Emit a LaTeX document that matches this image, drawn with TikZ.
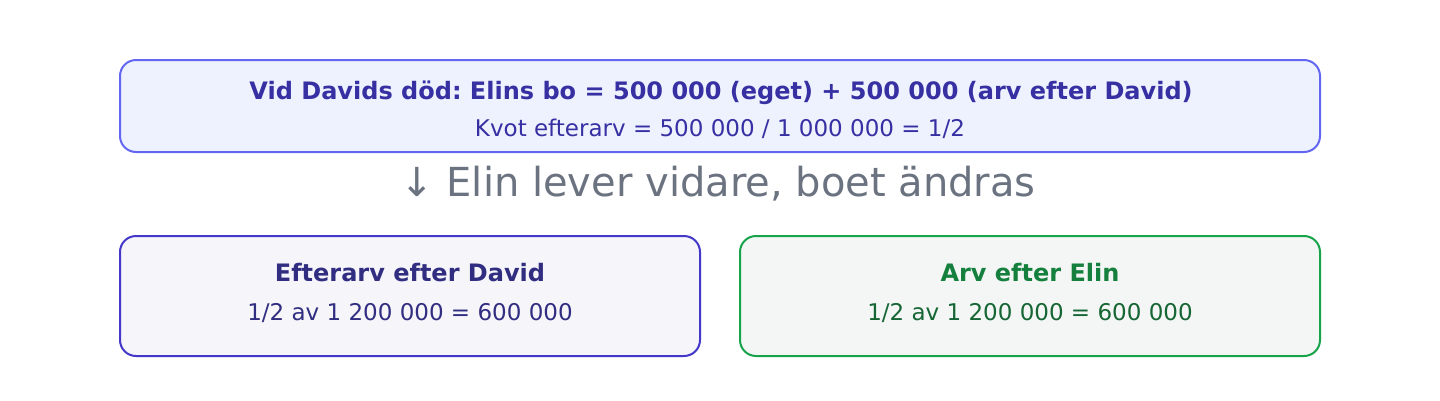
\documentclass[tikz,border=0pt]{standalone}
\usepackage{fontspec}
\setmainfont{DejaVu Sans}
\usepackage{tikz}
\usetikzlibrary{positioning}
\frenchspacing
\definecolor{indigoline}{HTML}{6366F1}
\definecolor{indigofill}{HTML}{EEF2FF}
\definecolor{indigotext}{HTML}{3730A3}
\definecolor{davidline}{HTML}{4338CA}
\definecolor{davidfill}{HTML}{F5F5FA}
\definecolor{davidtext}{HTML}{312E81}
\definecolor{elinline}{HTML}{16A34A}
\definecolor{elinfill}{HTML}{F3F6F4}
\definecolor{elintitle}{HTML}{15803D}
\definecolor{elintext}{HTML}{166534}
\definecolor{steptext}{HTML}{6B7280}
\tikzset{card/.style={draw, line width=2pt, rounded corners=16pt, inner sep=0pt}}
\tikzset{head/.style={font=\fontsize{24}{28}\selectfont\bfseries}}
\tikzset{body/.style={font=\fontsize{23}{28}\selectfont}}

\begin{document}
\begin{tikzpicture}[x=1pt, y=-1pt]
  \useasboundingbox (0,0) rectangle (1440,400);
  % Situation at Davids death
  \node[card, draw=indigoline, fill=indigofill, minimum width=1200pt, minimum height=92pt] (dod) at (720,106) {};
  \node[head, text=indigotext] (dodhead) at (721,93) {Vid Davids död: Elins bo = 500 000 (eget) + 500 000 (arv efter David)};
  \node[body, text=indigotext] (kvot) at (720,129) {Kvot efterarv = 500 000 / 1 000 000 = 1/2};
  % Step
  \node[text=steptext, font=\fontsize{40}{44}\selectfont] (steg) at (718,184) {↓ Elin lever vidare, boet ändras};
  % The two shares
  \node[card, draw=davidline, fill=davidfill, minimum width=580pt, minimum height=120pt] (david) at (410,296) {};
  \node[card, draw=elinline, fill=elinfill, minimum width=580pt, minimum height=120pt] (elin) at (1030,296) {};
  \node[head, text=davidtext] (davidhead) at (410,273) {Efterarv efter David};
  \node[body, text=davidtext] (davidsum) at (410,313) {1/2 av 1 200 000 = 600 000};
  \node[head, text=elintitle] (elinhead) at (1030,273) {Arv efter Elin};
  \node[body, text=elintext] (elinsum) at (1030,313) {1/2 av 1 200 000 = 600 000};
\end{tikzpicture}
\end{document}
